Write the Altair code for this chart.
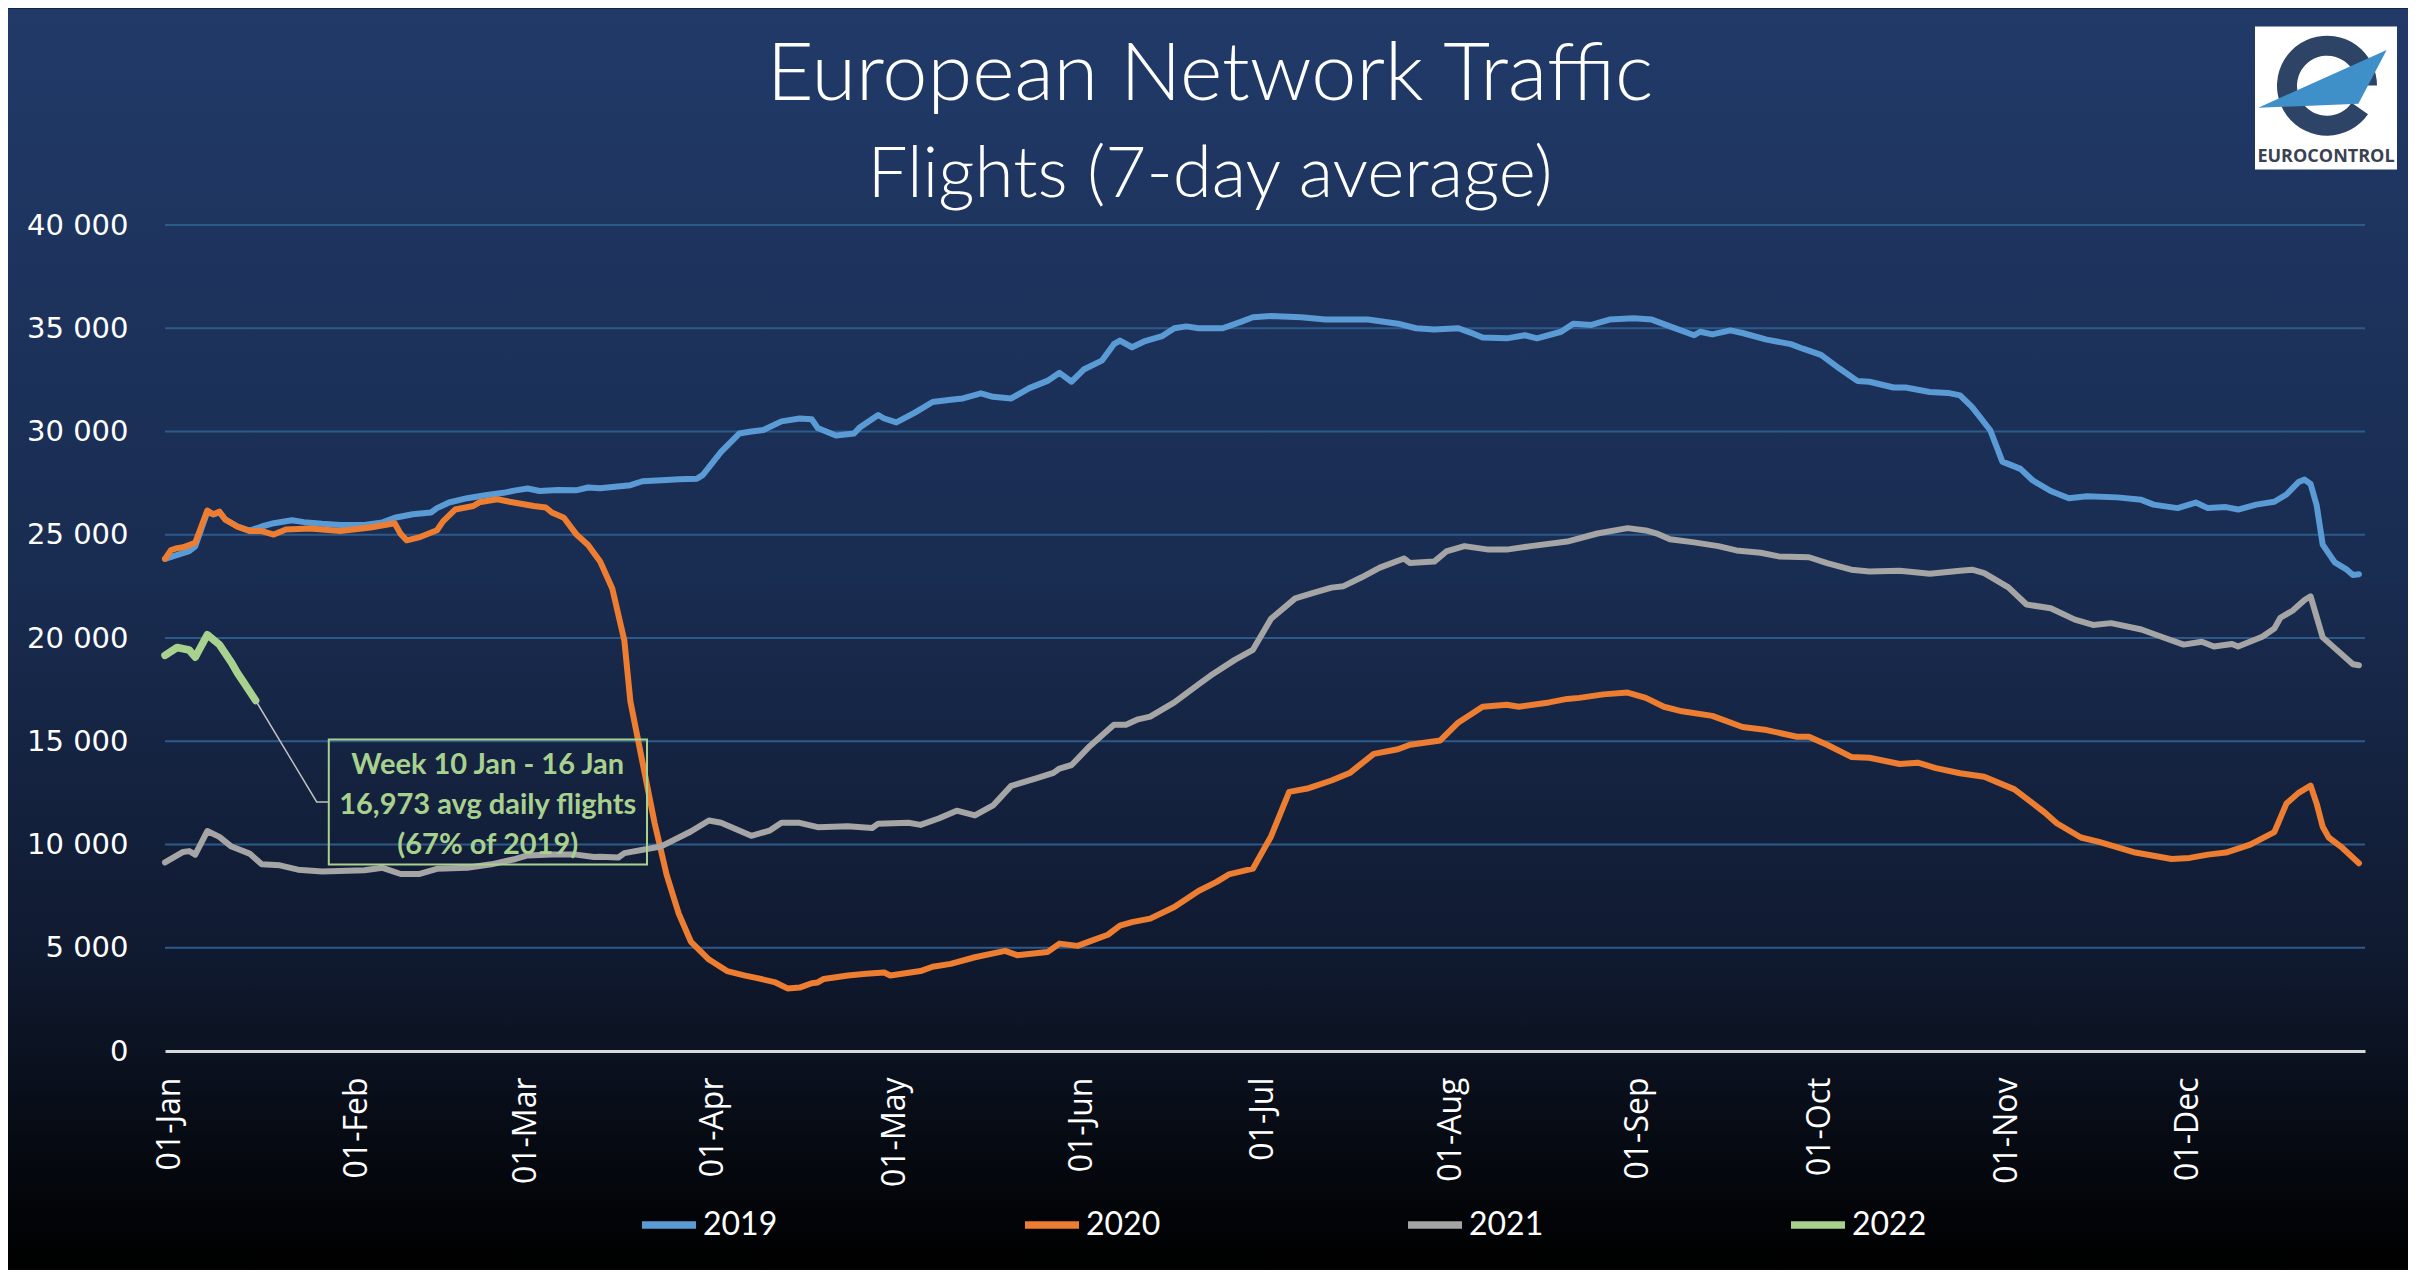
import altair as alt
import pandas as pd

# ---------------- data ----------------
MONTH_LABELS = ["01-Jan", "01-Feb", "01-Mar", "01-Apr", "01-May", "01-Jun",
                "01-Jul", "01-Aug", "01-Sep", "01-Oct", "01-Nov", "01-Dec"]
MONTH_START_DAYS = [0, 31, 59, 90, 120, 151, 181, 212, 243, 273, 304, 334]
Y_TICKS = [0, 5000, 10000, 15000, 20000, 25000, 30000, 35000, 40000]
YEARS = ["2019", "2020", "2021", "2022"]
LINE_COLORS = ["#5B9BD5", "#ED7D31", "#A5A5A5", "#A9D18E"]
TITLE_LINES = ["European Network Traffic", "Flights (7-day average)"]
ANNOTATION_LINES = ["Week 10 Jan - 16 Jan", "16,973 avg daily flights", "(67% of 2019)"]
LOGO_TEXT = "EUROCONTROL"

# (day of year, 7-day average flights)
flights_2019 = [
    (0, 23830), (4, 24210), (5, 24440), (7, 26100), (8, 25980), (9, 26080), (10, 25730),
    (12, 25400), (14, 25200), (16, 25400), (18, 25560), (21, 25700), (23, 25610),
    (26, 25530), (29, 25470), (33, 25470), (36, 25600), (38, 25820), (41, 25990),
    (44, 26080), (45, 26290), (47, 26560), (50, 26770), (53, 26910), (56, 27030),
    (58, 27150), (60, 27240), (62, 27120), (65, 27170), (68, 27150), (70, 27290),
    (72, 27250), (77, 27400), (79, 27590), (83, 27650), (85, 27690), (88, 27710),
    (89, 27900), (92, 29010), (95, 29900), (97, 30000), (99, 30070), (102, 30490),
    (105, 30630), (107, 30590), (108, 30170), (111, 29810), (114, 29900), (115, 30210),
    (118, 30800), (119, 30630), (121, 30440), (124, 30900), (127, 31430), (130, 31540),
    (132, 31600), (135, 31850), (137, 31680), (140, 31600), (143, 32100), (146, 32450),
    (148, 32840), (150, 32410), (152, 33000), (155, 33430), (157, 34230), (158, 34400),
    (160, 34080), (162, 34360), (165, 34620), (167, 35000), (169, 35090), (171, 35000),
    (175, 35000), (178, 35310), (180, 35530), (183, 35590), (188, 35530), (192, 35420),
    (196, 35420), (199, 35420), (204, 35220), (207, 35000), (210, 34940), (214, 35000),
    (216, 34790), (218, 34550), (222, 34510), (225, 34660), (227, 34510), (231, 34830),
    (233, 35220), (236, 35160), (239, 35420), (243, 35480), (246, 35420), (249, 35090),
    (253, 34660), (254, 34830), (256, 34700), (259, 34900), (261, 34770), (265, 34450),
    (269, 34230), (271, 34010), (274, 33710), (277, 33060), (280, 32450), (282, 32410),
    (286, 32130), (288, 32130), (292, 31910), (295, 31870), (297, 31750), (299, 31180),
    (302, 30060), (304, 28540), (307, 28190), (309, 27640), (312, 27120), (315, 26770),
    (318, 26860), (323, 26810), (327, 26690), (329, 26460), (333, 26290), (336, 26560),
    (338, 26290), (341, 26340), (343, 26220), (346, 26460), (349, 26600), (351, 26950),
    (353, 27550), (354, 27670), (355, 27460), (356, 26430), (357, 24520), (359, 23660),
    (361, 23310), (362, 23050), (363, 23090),
]

flights_2020 = [
    (0, 23830), (1, 24260), (2, 24350), (3, 24390), (5, 24610), (7, 26170), (8, 25990),
    (9, 26120), (10, 25730), (12, 25390), (14, 25180), (16, 25180), (18, 25010),
    (20, 25250), (24, 25300), (29, 25180), (34, 25350), (38, 25560), (39, 25040),
    (40, 24730), (42, 24870), (45, 25220), (46, 25650), (48, 26220), (51, 26390),
    (52, 26570), (55, 26720), (57, 26600), (61, 26390), (63, 26320), (64, 26080),
    (66, 25820), (68, 25040), (70, 24500), (72, 23700), (74, 22400), (76, 19880),
    (77, 16930), (79, 13990), (81, 11050), (83, 8530), (85, 6650), (87, 5300),
    (90, 4430), (93, 3870), (96, 3650), (98, 3530), (101, 3320), (103, 3030),
    (105, 3070), (107, 3280), (108, 3320), (109, 3490), (113, 3660), (116, 3740),
    (119, 3800), (120, 3660), (125, 3870), (127, 4080), (130, 4220), (134, 4540),
    (139, 4850), (141, 4640), (146, 4790), (148, 5200), (151, 5090), (153, 5310),
    (156, 5630), (158, 6070), (160, 6240), (163, 6410), (167, 6970), (171, 7750),
    (174, 8190), (176, 8550), (180, 8830), (183, 10390), (186, 12550), (189, 12710),
    (193, 13100), (196, 13460), (200, 14390), (204, 14610), (206, 14830), (211, 15040),
    (214, 15910), (218, 16670), (222, 16770), (224, 16670), (229, 16880), (232, 17050),
    (234, 17100), (238, 17270), (242, 17360), (245, 17100), (248, 16670), (251, 16450),
    (256, 16230), (261, 15690), (265, 15540), (270, 15220), (272, 15220), (275, 14830),
    (279, 14240), (282, 14200), (287, 13900), (290, 13960), (293, 13700), (297, 13450),
    (301, 13280), (306, 12670), (311, 11550), (313, 11030), (317, 10340), (320, 10130),
    (326, 9610), (332, 9300), (335, 9350), (338, 9510), (341, 9610), (345, 9990),
    (349, 10600), (351, 11980), (353, 12500), (355, 12850), (356, 11980), (357, 10860),
    (358, 10340), (360, 9900), (363, 9090),
]

flights_2021 = [
    (0, 9130), (3, 9640), (4, 9680), (5, 9510), (7, 10650), (9, 10370), (11, 9900),
    (14, 9560), (16, 9040), (19, 8990), (22, 8780), (26, 8690), (33, 8750), (36, 8870),
    (39, 8570), (42, 8570), (45, 8820), (50, 8870), (54, 9040), (58, 9300), (60, 9470),
    (64, 9510), (68, 9510), (71, 9390), (72, 9410), (75, 9370), (76, 9580), (82, 9900),
    (87, 10630), (90, 11160), (92, 11050), (97, 10420), (100, 10670), (102, 11050),
    (105, 11050), (108, 10840), (113, 10880), (117, 10800), (118, 11010), (123, 11050),
    (125, 10950), (128, 11260), (131, 11640), (134, 11410), (137, 11890), (140, 12840),
    (144, 13190), (147, 13470), (148, 13680), (150, 13850), (153, 14760), (157, 15800),
    (159, 15800), (161, 16060), (163, 16190), (167, 16880), (171, 17750), (173, 18180),
    (177, 18940), (180, 19430), (183, 20930), (187, 21920), (190, 22180), (193, 22440),
    (195, 22510), (198, 22940), (201, 23410), (205, 23850), (206, 23630), (210, 23700),
    (212, 24190), (215, 24450), (219, 24280), (222, 24280), (226, 24450), (232, 24670),
    (237, 25060), (242, 25320), (245, 25210), (247, 25040), (249, 24780), (253, 24630),
    (257, 24450), (260, 24240), (264, 24130), (267, 23950), (272, 23910), (275, 23630),
    (279, 23310), (282, 23220), (287, 23260), (292, 23110), (297, 23260), (299, 23310),
    (301, 23140), (305, 22450), (308, 21620), (312, 21440), (316, 20890), (319, 20630),
    (322, 20720), (327, 20410), (331, 19990), (334, 19680), (337, 19820), (339, 19590),
    (342, 19710), (343, 19590), (347, 20060), (349, 20460), (350, 20980), (352, 21320),
    (354, 21840), (355, 22020), (357, 20030), (359, 19510), (362, 18730), (363, 18680),
]

flights_2022 = [
    (0, 19160), (2, 19540), (4, 19420), (5, 19070), (7, 20160), (9, 19680), (11, 18810),
    (12, 18300), (13, 17860), (15, 16973),
]

# ---------------- layout (pixels / data positions) ----------------
W, H = 2200, 826            # plot area
BG_LEFT, BG_RIGHT = -157, 2243
BG_TOP, BG_BOTTOM = -216.6, 1044.4

rows = []
for year, pts in zip(YEARS[:3], [flights_2019, flights_2020, flights_2021]):
    for d, v in pts:
        rows.append({"day": d, "flights": v, "year": year})
df = pd.DataFrame(rows)
df22 = pd.DataFrame({"day": [p[0] for p in flights_2022],
                     "flights": [p[1] for p in flights_2022],
                     "year": YEARS[3]})

x_scale = alt.Scale(domain=[0, 364], nice=False, zero=False)
y_scale = alt.Scale(domain=[0, 40000], nice=False)

label_expr_x = "[" + ",".join("'%s'" % s for s in MONTH_LABELS) + "][indexof([" + \
    ",".join(str(d) for d in MONTH_START_DAYS) + "], datum.value)]"

AX_X = alt.Axis(
    values=MONTH_START_DAYS, labelExpr=label_expr_x, labelAngle=270,
    labelFont="Open Sans", labelFontSize=32, labelColor="#ffffff",
    labelPadding=26, labelOffset=4, ticks=False, grid=False,
    domain=True, domainColor="#d9d9d9", domainWidth=3,
    labelOverlap=False, labelFlush=False, labelBound=False,
    title=None, zindex=1)
AX_Y = alt.Axis(
    values=Y_TICKS, labelExpr="replace(format(datum.value, ','), ',', ' ')",
    labelFont="DejaVu Sans", labelFontSize=29, labelColor="#ffffff",
    labelPadding=37, ticks=False, grid=False, domain=False,
    title=None, zindex=1)


def X(field):
    return alt.X(field, scale=x_scale, axis=AX_X)


def Y(field):
    return alt.Y(field, scale=y_scale, axis=AX_Y)


# background gradient covering whole chart
bg = alt.Chart(alt.Data(values=[{"k": 0}])).mark_rect(
    fill=alt.LinearGradient(
        gradient="linear", x1=0, x2=0, y1=0, y2=1,
        stops=[
            alt.GradientStop(offset=0, color="#213a68"),
            alt.GradientStop(offset=0.45, color="#192c51"),
            alt.GradientStop(offset=0.75, color="#101a30"),
            alt.GradientStop(offset=0.9, color="#060a12"),
            alt.GradientStop(offset=1, color="#000000"),
        ],
    ),
    strokeWidth=0,
).encode(x=alt.value(BG_LEFT), x2=alt.value(BG_RIGHT), y=alt.value(BG_TOP), y2=alt.value(BG_BOTTOM))

grid = alt.Chart(pd.DataFrame({"flights": Y_TICKS[1:]})).mark_rule(
    color="#2c5a8a", strokeWidth=2
).encode(
    y=Y("flights:Q"),
    x=alt.value(0), x2=alt.value(W),
)

lines = alt.Chart(df).mark_line(strokeCap="round", strokeJoin="round", strokeWidth=6).encode(
    x=X("day:Q"),
    y=Y("flights:Q"),
    color=alt.Color("year:N", scale=alt.Scale(domain=YEARS, range=LINE_COLORS),
                    legend=alt.Legend(
                        orient="none", legendX=473, legendY=969, direction="horizontal",
                        title=None, symbolType="stroke", symbolSize=2916,
                        symbolStrokeWidth=7.5, labelFont="Lato", labelFontSize=32,
                        labelColor="#ffffff", labelOffset=3, columnPadding=232,
                        padding=0)),
)

line22 = alt.Chart(df22).mark_line(strokeCap="round", strokeJoin="round", strokeWidth=7.5,
                                   color=LINE_COLORS[3]).encode(
    x=X("day:Q"),
    y=Y("flights:Q"),
)

# annotation
conn = alt.Chart(pd.DataFrame({"day": [15, 25.1, 27.1], "flights": [16973, 12064, 12064],
                               "o": [0, 1, 2]})).mark_line(
    color="#bfbfbf", strokeWidth=1.5
).encode(
    x=X("day:Q"),
    y=Y("flights:Q"),
    order="o:Q",
)

box = alt.Chart(alt.Data(values=[{"day": 27.1, "b": 79.75, "flights": 15090, "u": 9030}])).mark_rect(
    stroke="#A9D18E", strokeWidth=2, fillOpacity=0
).encode(
    x=X("day:Q"), x2="b:Q",
    y=Y("flights:Q"), y2="u:Q",
)

ann = alt.Chart(pd.DataFrame({"day": [53.4] * 3, "flights": [13438, 11501, 9564],
                              "txt": ANNOTATION_LINES})).mark_text(
    font="Lato", fontWeight="bold", fontSize=29, color="#A9D18E",
    align="center", baseline="alphabetic"
).encode(
    x=X("day:Q"),
    y=Y("flights:Q"),
    text="txt:N",
)

# titles
title1 = alt.Chart(alt.Data(values=[{"t": TITLE_LINES[0]}])).mark_text(
    font="Lato", fontWeight=300, fontSize=81, color="#ffffff", align="center", baseline="alphabetic"
).encode(x=alt.value(1045), y=alt.value(-124.6), text="t:N")

title2 = alt.Chart(alt.Data(values=[{"t": TITLE_LINES[1]}])).mark_text(
    font="Lato", fontWeight=300, fontSize=71, color="#ffffff", align="center", baseline="alphabetic"
).encode(x=alt.value(1045), y=alt.value(-27.6), text="t:N")

# logo
logo_box = alt.Chart(alt.Data(values=[{"k": 0}])).mark_rect(fill="#ffffff", strokeWidth=0).encode(
    x=alt.value(2090), x2=alt.value(2232), y=alt.value(-198.6), y2=alt.value(-55.6))

logo_ring = alt.Chart(alt.Data(values=[{"k": 0}])).mark_arc(
    radius=50, radius2=30, theta=2.18, theta2=7.85, fill="#2d4466"
).encode(x=alt.value(2162), y=alt.value(-139.3))

logo_wing = alt.Chart(alt.Data(values=[{"k": 0}])).mark_point(
    shape="M -0.98 0.49 L 0.995 -0.40 L 0.56 0.43 Z", size=16900, filled=True,
    fill="#3f8fc8", opacity=1, strokeWidth=0
).encode(x=alt.value(2157), y=alt.value(-149.1))

logo_text = alt.Chart(alt.Data(values=[{"t": LOGO_TEXT}])).mark_text(
    font="Open Sans", fontWeight="bold", fontSize=18, color="#3a4150",
    align="center", baseline="alphabetic"
).encode(x=alt.value(2161), y=alt.value(-62.6), text="t:N")

chart = alt.layer(
    bg, grid, lines, line22, conn, box, ann, title1, title2,
    logo_box, logo_ring, logo_wing, logo_text
).properties(
    width=W, height=H, padding=0, background="#0a0f1c"
).configure_view(stroke="transparent")

chart.save("out.html", embed_options={"renderer": "svg", "actions": False})
